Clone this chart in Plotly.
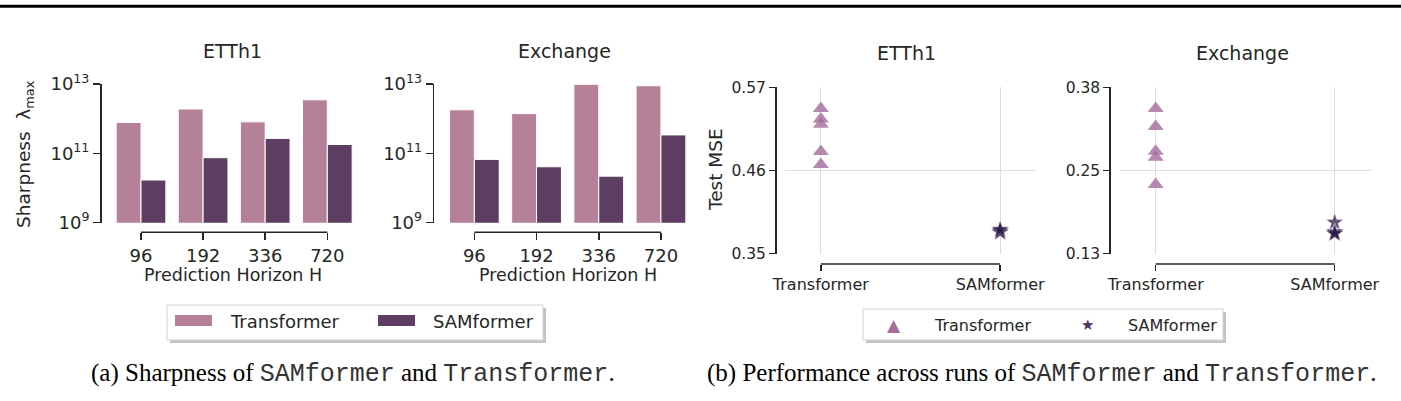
import plotly.graph_objects as go

W, H = 1401, 401

# ---------------- data ----------------
horizons = ["96", "192", "336", "720"]
ett_transformer_sharp = [7.8e11, 1.9e12, 8.1e11, 3.5e12]
ett_samformer_sharp = [1.7e10, 7.5e10, 2.7e11, 1.8e11]
exch_transformer_sharp = [1.8e12, 1.4e12, 9.8e12, 8.9e12]
exch_samformer_sharp = [6.7e10, 4.1e10, 2.2e10, 3.4e11]

models = ["Transformer", "SAMformer"]
ett_transformer_mse = [0.542, 0.528, 0.521, 0.485, 0.468]
ett_samformer_mse = [0.378, 0.380, 0.381, 0.379, 0.382]
exch_transformer_mse = [0.348, 0.321, 0.284, 0.275, 0.234]
exch_samformer_mse = [0.177, 0.163, 0.161, 0.162, 0.160]

sharp_ticks = [1e9, 1e11, 1e13]
sharp_ticktext = ["10<sup>9</sup>", "10<sup>11</sup>", "10<sup>13</sup>"]
ett_mse_ticks = [0.35, 0.46, 0.57]
ett_mse_ticktext = ["0.35", "0.46", "0.57"]
exch_mse_ticks = [0.13, 0.255, 0.38]
exch_mse_ticktext = ["0.13", "0.25", "0.38"]

# ---------------- style ----------------
C_TRANS_BAR = "#b58199"
C_SAM_BAR = "#5d3d62"
C_TRANS_PT = "#a56c9c"
C_SAM_PT = "#2e1b4b"
TXT = "#262626"
GRID = "#dedede"
FONT = "DejaVu Sans"


def px(x):
    return x / W


def py(y):
    return 1 - y / H


fig = go.Figure()

h_idx = list(range(len(horizons)))

# bar panels
for ax_id, tvals, svals in [("", ett_transformer_sharp, ett_samformer_sharp),
                            ("2", exch_transformer_sharp, exch_samformer_sharp)]:
    fig.add_trace(go.Bar(x=h_idx, y=tvals, name="Transformer", marker=dict(color=C_TRANS_BAR, line=dict(color="white", width=1)),
                         xaxis="x" + ax_id, yaxis="y" + ax_id, offsetgroup="t", showlegend=False))
    fig.add_trace(go.Bar(x=h_idx, y=svals, name="SAMformer", marker=dict(color=C_SAM_BAR, line=dict(color="white", width=1)),
                         xaxis="x" + ax_id, yaxis="y" + ax_id, offsetgroup="s", showlegend=False))

# scatter panels
ti = models.index("Transformer")
si = models.index("SAMformer")
for ax_id, tvals, svals in [("3", ett_transformer_mse, ett_samformer_mse),
                            ("4", exch_transformer_mse, exch_samformer_mse)]:
    fig.add_trace(go.Scatter(x=[ti] * len(tvals), y=tvals, mode="markers", name="Transformer",
                             marker=dict(symbol="triangle-up", size=14, color=C_TRANS_PT, opacity=0.8, line=dict(width=0)),
                             xaxis="x" + ax_id, yaxis="y" + ax_id, showlegend=False))
    fig.add_trace(go.Scatter(x=[si] * len(svals), y=svals, mode="markers", name="SAMformer",
                             marker=dict(symbol="star", size=13, color=C_SAM_PT, opacity=0.75,
                                         line=dict(width=0.6, color="rgba(255,255,255,0.6)")),
                             xaxis="x" + ax_id, yaxis="y" + ax_id, showlegend=False))

bar_x_common = dict(range=[-0.5, 3.5], tickvals=h_idx, ticktext=horizons, anchor="free", position=py(232.3),
                    showline=False, ticks="outside", ticklen=7, tickwidth=1.5, tickcolor=TXT,
                    tickfont=dict(size=18, color=TXT, family=FONT), showgrid=False, zeroline=False, automargin=False)
bar_y_common = dict(domain=[py(222.7), py(84)], type="log", range=[9, 13], tickvals=sharp_ticks,
                    ticktext=sharp_ticktext, anchor="free", showline=True, linecolor=TXT, linewidth=1.5,
                    ticks="outside", ticklen=7, tickwidth=1.5, tickcolor=TXT,
                    tickfont=dict(size=18, color=TXT, family=FONT), showgrid=False, zeroline=False, automargin=False)

sc_x_common = dict(range=[-0.2, 1.2], tickvals=[ti, si], ticktext=models, anchor="free", position=py(264),
                   showline=False, ticks="outside", ticklen=6, tickwidth=1.5, tickcolor=TXT,
                   tickfont=dict(size=16, color=TXT, family=FONT), showgrid=True, gridcolor=GRID, gridwidth=1,
                   zeroline=False, automargin=False)
sc_y_common = dict(domain=[py(253.7), py(87.3)], anchor="free", showline=True, linecolor=TXT, linewidth=1.5,
                   ticks="outside", ticklen=6, tickwidth=1.5, tickcolor=TXT,
                   tickfont=dict(size=15.5, color=TXT, family=FONT), showgrid=True, gridcolor=GRID, gridwidth=1,
                   zeroline=False, automargin=False)

fig.update_layout(
    template="none",
    xaxis=dict(domain=[px(109.95), px(358.35)], **bar_x_common),
    yaxis=dict(position=px(100), **bar_y_common),
    xaxis2=dict(domain=[px(443.25), px(692.05)], **bar_x_common),
    yaxis2=dict(position=px(432.7), **bar_y_common),
    xaxis3=dict(domain=[px(785), px(1036)], **sc_x_common),
    yaxis3=dict(position=px(775), range=[0.35, 0.57], tickvals=ett_mse_ticks, ticktext=ett_mse_ticktext, **sc_y_common),
    xaxis4=dict(domain=[px(1119.9), px(1370.5)], **sc_x_common),
    yaxis4=dict(position=px(1109.3), range=[0.13, 0.38], tickvals=exch_mse_ticks, ticktext=exch_mse_ticktext, **sc_y_common),
    barmode="group", bargap=0.2, bargroupgap=0.0,
    width=W, height=H, margin=dict(l=0, r=0, t=0, b=0, pad=0, autoexpand=False),
    paper_bgcolor="white", plot_bgcolor="white",
    font=dict(family=FONT, color=TXT, size=16),
    showlegend=False,
)

shapes = []
# trimmed x spines (between first and last tick)
for xa in ["x", "x2"]:
    shapes.append(dict(type="line", xref=xa, yref="paper", x0=h_idx[0], x1=h_idx[-1], y0=py(232.3), y1=py(232.3),
                       line=dict(color=TXT, width=1.5)))
for xa in ["x3", "x4"]:
    shapes.append(dict(type="line", xref=xa, yref="paper", x0=ti, x1=si, y0=py(264), y1=py(264),
                       line=dict(color=TXT, width=1.5)))

# top rule of the page
shapes.append(dict(type="line", xref="paper", yref="paper", x0=0, x1=1, y0=py(6.2), y1=py(6.2),
                   line=dict(color="black", width=3)))


def rect(x0, y0, x1, y1, fill, line=None, lw=0):
    return dict(type="rect", xref="paper", yref="paper", x0=px(x0), x1=px(x1), y0=py(y1), y1=py(y0),
                fillcolor=fill, line=dict(color=line or fill, width=lw), layer="above")


# left legend box
shapes.append(rect(170, 308, 546, 343, "#c4c4c4"))
shapes.append(rect(167, 305, 543, 340, "white", "#d2d2d2", 1))
shapes.append(rect(175, 315, 212, 326, C_TRANS_BAR))
shapes.append(rect(378, 315, 415, 326, C_SAM_BAR))
# right legend box
shapes.append(rect(866, 312, 1226, 343, "#c4c4c4"))
shapes.append(rect(863, 309, 1223, 340, "white", "#d2d2d2", 1))

fig.update_layout(shapes=shapes)

ann = []


def text(x, y, s, size, xanchor="center", angle=0, color=TXT, family=FONT):
    ann.append(dict(x=px(x), y=py(y), xref="paper", yref="paper", text=s, showarrow=False,
                    xanchor=xanchor, yanchor="middle", textangle=angle,
                    font=dict(size=size, color=color, family=family)))


# panel titles
text(232, 51, "ETTh1", 19)
text(564, 51, "Exchange", 19)
text(906.5, 53, "ETTh1", 19)
text(1242, 53, "Exchange", 19)
# axis titles
text(233, 275, "Prediction Horizon H", 17.5)
text(567.5, 275, "Prediction Horizon H", 17.5)
text(25, 154, "Sharpness  λ<sub>max</sub>", 18.5, angle=-90)
text(715, 170, "Test MSE", 18.5, angle=-90)
# left legend
text(228, 321, "Transformer", 18, xanchor="left")
text(431, 321, "SAMformer", 18, xanchor="left")
# right legend
text(894, 325, "▲", 17, color=C_TRANS_PT)
text(1087, 325, "★", 15, color="#4a3767")
text(932, 325, "Transformer", 16, xanchor="left")
text(1126, 325, "SAMformer", 16, xanchor="left")
# captions
mono = '<span style="font-family:Liberation Mono;color:#333333">%s</span>'
text(353, 374, "(a) Sharpness of " + mono % "SAMformer" + " and " + mono % "Transformer" + ".", 25,
     color="black", family="Liberation Serif")
text(1041.5, 374, "(b) Performance across runs of " + mono % "SAMformer" + " and " + mono % "Transformer" + ".", 25,
     color="black", family="Liberation Serif")

fig.update_layout(annotations=ann)

fig.write_html(
    "out.html",
    config={"displayModeBar": False, "staticPlot": True},
    post_script="document.body.style.margin='0';document.body.style.padding='0';document.body.style.overflow='hidden';",
)
